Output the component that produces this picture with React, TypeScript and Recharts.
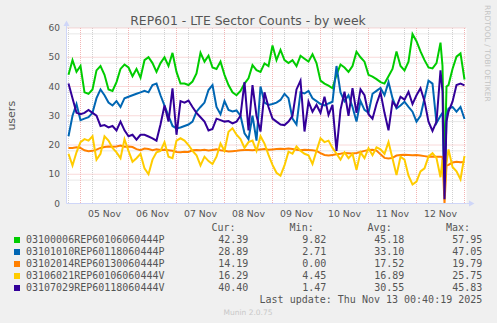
import { CartesianGrid, Line, LineChart, XAxis, YAxis } from "recharts";

// hours since 04 Nov 00:00
const hours = [
  18, 20, 22, 24, 26, 28, 30, 32, 34, 36,
  38, 40, 42, 44, 46, 48, 50, 52, 54, 56,
  58, 60, 62, 64, 66, 68, 70, 72, 74, 76,
  78, 80, 82, 84, 86, 88, 90, 92, 94, 96,
  98, 100, 102, 104, 106, 108, 110, 112, 114, 116,
  118, 120, 122, 124, 126, 128, 130, 132, 134, 136,
  138, 140, 142, 144, 146, 148, 150, 152, 154, 156,
  158, 160, 162, 164, 166, 168, 170, 172, 174, 176,
  178, 180, 182, 184, 186, 188, 190, 192, 194, 196,
  198, 200, 202, 204, 205, 206, 207, 208, 210, 212,
  214, 216,
];

const sector1 = [
  44, 49, 45, 47, 38, 37.5, 39, 45.5, 47, 44,
  39, 38.5, 41.5, 46, 47.5, 46.5, 43.5, 46, 43, 49,
  50, 48, 45, 48, 50, 47, 51.5, 45, 41, 41,
  40.5, 41.7, 44.5, 51.5, 48.5, 50.5, 46.5, 46, 48.5, 44,
  40.5, 38, 37, 38.5, 41, 42.8, 47.3, 45.6, 45, 47.9,
  47, 54, 49, 52.5, 49, 48, 49, 47, 50.5, 49.5,
  48.5, 51, 48, 42, 41, 40.3, 39.4, 44, 47.5, 46.5,
  45, 47, 51.9, 50, 48.5, 44, 43.4, 42.5, 41.5, 41,
  43.5, 46, 52, 47, 45.5, 48.5, 57.9, 55.5, 52, 49,
  46.5, 46.2, 48, 55, 47, 9.8, 40, 40.5, 46, 50.2,
  51.3, 42.4,
];

const sector2 = [
  23, 30, 34, 28.5, 29, 29.5, 31, 36, 39, 37,
  34.5, 33.5, 35, 33, 36, 36.5, 37, 37.5, 38, 38.5,
  38, 40.5, 41, 37, 33.5, 30, 26.5, 25.7, 26, 26.5,
  27, 28, 31.4, 33, 34.5, 38.8, 40.5, 33, 30.5, 35,
  32, 31.5, 31.8, 30, 24, 22, 30, 21.5, 40, 34.5,
  33.7, 34, 34.5, 35.4, 37.5, 36, 29, 27, 38, 37.6,
  38.5, 36, 35, 34, 33.5, 34.2, 34.8, 47, 38, 35,
  37, 33, 28, 35, 32, 31, 37.5, 38.5, 39.5, 37,
  41.5, 36, 32.5, 33.5, 34.8, 33, 31.4, 28, 30, 36,
  42, 41, 27.5, 30, 31, 2.7, 30, 32.5, 33, 31.4,
  33, 28.9,
];

const sector3 = [
  19, 19, 19.2, 19, 18.2, 17.9, 18, 18.4, 19, 19.3,
  19.5, 19.4, 19.5, 19.8, 19.4, 19.5, 19.3, 18.6, 18.2, 18.8,
  18.6, 18.2, 18.5, 18.3, 18.4, 18.2, 18, 17.6, 17.5, 17.7,
  17.6, 18.2, 18.3, 18.2, 18.4, 18.1, 18.3, 18.5, 18.2, 18,
  17.8, 17.9, 18, 18.2, 18.3, 18.3, 18.2, 18.4, 18.5, 18.6,
  18.4, 18.5, 18.6, 18.7, 18.6, 18.8, 18.6, 18.4, 18.2, 18.4,
  18.3, 18.2, 18, 17.2, 16.6, 16.4, 16.6, 16.8, 17, 17.3,
  17.2, 17.1, 17.3, 17.6, 18, 18.3, 18.4, 18.1, 16.8, 15.6,
  15.4, 15.6, 16.4, 16.6, 16.7, 16.6, 16.5, 16.6, 16.4, 16.2,
  16, 16.1, 16, 16, 15.9, 0, 13, 13.2, 14, 14.3,
  14.1, 14.2,
];

const sector4 = [
  17, 13, 17.5, 21, 22, 21.5, 23, 15, 17, 23,
  21.5, 19, 17.5, 15.5, 22, 18, 14.3, 15.5, 17, 12,
  10, 15, 17.5, 18, 21, 16, 15.5, 21.5, 22.3, 21.5,
  20, 18, 16.5, 13, 16, 14.5, 13.5, 16, 20.5, 18,
  24.5, 25.7, 23.5, 22, 19, 21, 21.5, 18, 23, 20.5,
  16.6, 13.2, 10.5, 9.5, 13, 17.7, 17, 19.5, 18, 17,
  16.5, 13.5, 18, 22.3, 21, 21.5, 19, 17, 15, 17.5,
  15.5, 17, 11.5, 17.5, 15.5, 18.9, 16.5, 19.2, 18.5, 17,
  21, 15.4, 9.7, 16, 15, 9.5, 6.5, 7.5, 11, 12,
  16, 17.2, 15.5, 9, 15, 4.5, 14, 18.5, 12.5, 11,
  8.3, 16.3,
];

const sector5 = [
  41, 36, 31, 30.5, 31, 32, 31, 30, 26.5, 26.8,
  26, 26.5, 25, 28, 25, 23, 23.5, 21.8, 23.5, 23.5,
  22.9, 22.3, 21.5, 27, 33.5, 28, 39.4, 23.5, 35, 34.5,
  35.2, 33, 31, 29.5, 28, 25, 25.5, 29, 28.5, 28,
  28.2, 27.4, 28, 30, 41.5, 25, 40.5, 30, 24.6, 38,
  33, 29, 28, 27, 26.8, 28, 30, 39, 42, 24.6,
  34.8, 31.4, 33.7, 31, 36.5, 30.3, 33.7, 18, 32, 38.2,
  30, 39.4, 31, 39, 37, 30.5, 29, 34, 38, 31,
  25, 34.8, 33, 36.5, 35.5, 38.2, 34, 37, 39.4, 35,
  28, 24.8, 28, 45.5, 38.2, 1.5, 28, 31.4, 34.8, 40.5,
  41, 40.4,
];

const seriesKeys = ["s1", "s2", "s3", "s4", "s5"];
const seriesNames = [
  "03100006REP60106060444P",
  "03101010REP60118060444P",
  "03102014REP60130060444P",
  "03106021REP60106060444V",
  "03107029REP60118060444V",
];
const seriesColors = ["#00cc00", "#0066b3", "#ff8000", "#ffcc00", "#330099"];
const curValues = ["42.39", "28.89", "14.19", "16.29", "40.40"];
const minValues = ["9.82", "2.71", "0.00", "4.45", "1.47"];
const avgValues = ["45.18", "33.10", "17.52", "16.89", "30.55"];
const maxValues = ["57.95", "47.05", "19.79", "25.75", "45.83"];

const dayTicks = [36, 60, 84, 108, 132, 156, 180, 204];
const dayLabels = ["05 Nov", "06 Nov", "07 Nov", "08 Nov", "09 Nov", "10 Nov", "11 Nov", "12 Nov"];
const yTicks = [0, 10, 20, 30, 40, 50, 60];
const yMinor = [2, 4, 6, 8, 12, 14, 16, 18, 22, 24, 26, 28, 32, 34, 36, 38, 42, 44, 46, 48, 52, 54, 56, 58];
const xMajor = [24, 48, 72, 96, 120, 144, 168, 192, 216];
const xMinor = [18, 30, 36, 42, 54, 60, 66, 78, 84, 90, 102, 108, 114, 126, 132, 138, 150, 156, 162, 174, 180, 186, 198, 204, 210];

const allSeries = [sector1, sector2, sector3, sector4, sector5];
const data = hours.map((h, i) => {
  const row: Record<string, number> = { h };
  seriesKeys.forEach((k, j) => {
    row[k] = allSeries[j][i];
  });
  return row;
});

const sans = "'DejaVu Sans', sans-serif";
const mono = "'DejaVu Sans Mono', monospace";
const textColor = "#555555";
const axisColor = "#cfd6f8";

export default function App() {
  const rowY = [243.3, 255.3, 267.3, 279.3, 291.3];
  return (
    <div style={{ position: "absolute", left: 0, top: 0, width: 497, height: 323, background: "#f0f0f0", overflow: "hidden" }}>
      <LineChart width={497} height={323} data={data} margin={{ top: 28, right: 30.5, bottom: 99.5, left: 0 }}>
        <CartesianGrid fill="#ffffff" stroke="#d0d0d0" strokeDasharray="1 1" horizontalValues={yMinor} verticalValues={xMinor} />
        <CartesianGrid stroke="#f2b4b4" strokeDasharray="1 1" horizontalValues={yTicks.slice(1)} verticalValues={xMajor} />
        <XAxis
          dataKey="h"
          type="number"
          domain={[17, 217]}
          ticks={dayTicks}
          tickFormatter={(v: number) => dayLabels[dayTicks.indexOf(v)] ?? ""}
          height={20}
          tickSize={0}
          tickMargin={6.4}
          axisLine={{ stroke: axisColor }}
          tick={{ fill: textColor, fontSize: 9.3, fontFamily: sans }}
          allowDataOverflow
        />
        <YAxis
          type="number"
          domain={[0, 60]}
          ticks={yTicks}
          width={66.5}
          tickSize={0}
          tickMargin={6.5}
          axisLine={{ stroke: axisColor }}
          tick={{ fill: textColor, fontSize: 9, fontFamily: sans }}
        />
        {seriesKeys.map((k, i) => (
          <Line
            key={k}
            type="linear"
            dataKey={k}
            stroke={seriesColors[i]}
            strokeWidth={2}
            dot={false}
            isAnimationActive={false}
          />
        ))}
      </LineChart>
      <svg width={497} height={323} style={{ position: "absolute", left: 0, top: 0, pointerEvents: "none" }}>
        <text x={248} y={24.5} textAnchor="middle" fontFamily={sans} fontSize={12.4} fill={textColor}>
          REP601 - LTE Sector Counts - by week
        </text>
        <text transform="translate(15,115.75) rotate(-90)" textAnchor="middle" fontFamily={sans} fontSize={11} fill={textColor}>
          users
        </text>
        <text transform="translate(485,5) rotate(90)" fontFamily={sans} fontSize={7.5} fill="#c4c4c4">
          RRDTOOL / TOBI OETIKER
        </text>
        <line x1={66.5} y1={24} x2={66.5} y2={28} stroke={axisColor} />
        <polygon points="66.5,20.5 63.5,26 69.5,26" fill={axisColor} />
        <line x1={466.5} y1={203.5} x2={470} y2={203.5} stroke={axisColor} />
        <polygon points="474.5,203.5 469,200.5 469,206.5" fill={axisColor} />
        <g fontFamily={mono} fontSize={10} fill={textColor}>
          <text x={235.5} y={231.3} textAnchor="end">Cur:</text>
          <text x={313.7} y={231.3} textAnchor="end">Min:</text>
          <text x={391.7} y={231.3} textAnchor="end">Avg:</text>
          <text x={470} y={231.3} textAnchor="end">Max:</text>
          {seriesNames.map((name, i) => (
            <g key={name}>
              <rect x={14} y={rowY[i] - 6.3} width={6} height={6} fill={seriesColors[i]} />
              <text x={26} y={rowY[i]}>{name}</text>
              <text x={248.3} y={rowY[i]} textAnchor="end">{curValues[i]}</text>
              <text x={326.3} y={rowY[i]} textAnchor="end">{minValues[i]}</text>
              <text x={404.3} y={rowY[i]} textAnchor="end">{avgValues[i]}</text>
              <text x={482.3} y={rowY[i]} textAnchor="end">{maxValues[i]}</text>
            </g>
          ))}
          <text x={482.3} y={303.3} textAnchor="end">Last update: Thu Nov 13 00:40:19 2025</text>
        </g>
        <text x={248} y={315} textAnchor="middle" fontFamily={sans} fontSize={7.5} fill="#c8c8c8">
          Munin 2.0.75
        </text>
      </svg>
    </div>
  );
}
